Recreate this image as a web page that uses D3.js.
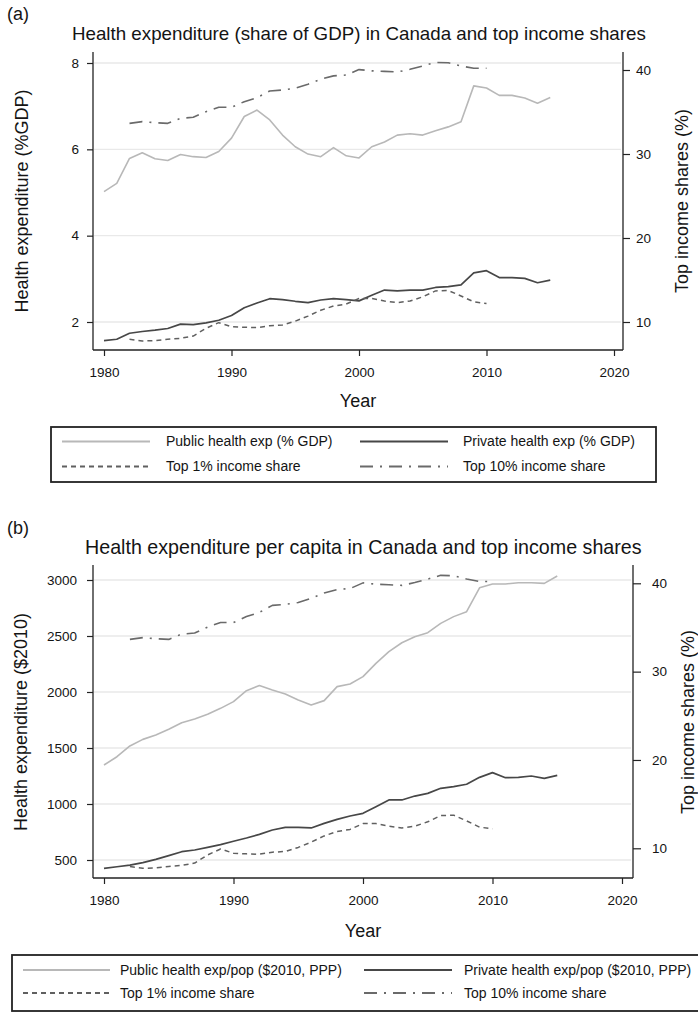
<!DOCTYPE html>
<html><head><meta charset="utf-8">
<script src="https://cdn.jsdelivr.net/npm/d3@7"></script>
<style>
body{margin:0;background:#fff;}
svg{display:block;font-family:"Liberation Sans",Arial,Helvetica,sans-serif;}
</style></head><body>
<svg id="chart" width="698" height="1013"></svg>
<script>
// ---------- DATA ----------
const years = [1980,1981,1982,1983,1984,1985,1986,1987,1988,1989,1990,1991,1992,1993,1994,1995,1996,1997,1998,1999,2000,2001,2002,2003,2004,2005,2006,2007,2008,2009,2010,2011,2012,2013,2014,2015];
const incomeYears = [1982,1983,1984,1985,1986,1987,1988,1989,1990,1991,1992,1993,1994,1995,1996,1997,1998,1999,2000,2001,2002,2003,2004,2005,2006,2007,2008,2009,2010];

const publicGDP = [5.02,5.21,5.79,5.92,5.78,5.74,5.88,5.83,5.81,5.95,6.26,6.76,6.91,6.68,6.33,6.06,5.89,5.83,6.04,5.85,5.80,6.06,6.17,6.33,6.36,6.33,6.43,6.52,6.64,7.47,7.42,7.25,7.25,7.19,7.07,7.20];
const privateGDP = [1.57,1.60,1.74,1.78,1.81,1.85,1.95,1.94,1.98,2.04,2.15,2.33,2.44,2.54,2.52,2.48,2.45,2.51,2.54,2.52,2.49,2.62,2.74,2.72,2.74,2.74,2.80,2.82,2.86,3.14,3.19,3.03,3.03,3.01,2.91,2.97];
const publicPerCapita = [1348,1422,1518,1577,1616,1667,1726,1759,1801,1854,1914,2012,2057,2018,1982,1929,1884,1923,2048,2071,2137,2256,2360,2440,2494,2530,2613,2673,2717,2930,2964,2964,2976,2976,2970,3036];
const privatePerCapita = [426,440,455,476,506,539,574,589,613,637,667,696,729,768,792,792,786,827,863,893,917,976,1036,1036,1071,1095,1140,1155,1176,1238,1280,1235,1238,1250,1229,1256];
const top1Share = [7.94,7.74,7.78,7.94,8.06,8.33,9.25,9.92,9.44,9.37,9.33,9.56,9.64,10.1,10.7,11.4,11.9,12.14,12.8,12.8,12.5,12.3,12.5,13.0,13.7,13.75,13.1,12.4,12.2];
const top10Share = [33.65,33.85,33.73,33.65,34.25,34.37,35.04,35.56,35.56,36.23,36.71,37.5,37.62,37.82,38.3,38.9,39.3,39.4,40.05,39.9,39.84,39.76,40.08,40.48,40.9,40.86,40.48,40.2,40.2];

const xTickValues = [1980,1990,2000,2010,2020];
const leftTicksA = [2,4,6,8];
const leftTicksB = [500,1000,1500,2000,2500,3000];
const rightTickValues = [10,20,30,40];

const legendA = ["Public health exp (% GDP)","Private health exp (% GDP)","Top 1% income share","Top 10% income share"];
const legendB = ["Public health exp/pop ($2010, PPP)","Private health exp/pop ($2010, PPP)","Top 1% income share","Top 10% income share"];

// ---------- STYLES ----------
const sty = {
  pub:  {stroke:"#b8b8b8", w:1.6, dash:null},
  priv: {stroke:"#474747", w:1.7, dash:null},
  t1:   {stroke:"#606060", w:1.5, dash:"5,4"},
  t10:  {stroke:"#6a6a6a", w:1.6, dash:"13,7,2,7"}
};
const textCol = "#141414";
const svg = d3.select("#chart");

function drawPanel(c){
  const g = svg.append("g");
  const x = d3.scaleLinear().domain([1980,2020]).range(c.xRange);
  const yL = d3.scaleLinear().domain(c.yLDomain).range(c.yLRange);
  const yR = d3.scaleLinear().domain([10,40]).range(c.yRRange);

  // panel label
  g.append("text").attr("x",7).attr("y",c.labelY).attr("font-size",18).attr("fill",textCol).text(c.label);
  // title
  const t = g.append("text").attr("x",c.titleX).attr("y",c.titleY).attr("font-size",18).attr("fill",textCol).text(c.title);
  const len = t.node().getComputedTextLength();
  t.attr("font-size", 18*c.titleW/len);

  // gridlines
  g.append("g").selectAll("line").data(c.leftTicks).join("line")
    .attr("x1",c.left+1).attr("x2",c.right-2)
    .attr("y1",d=>yL(d)).attr("y2",d=>yL(d))
    .attr("stroke","#e9e9e9").attr("stroke-width",1.3);

  // axes via d3
  const fmt = d3.format("d");
  const axL = d3.axisLeft(yL).tickValues(c.leftTicks).tickFormat(fmt).tickSize(6).tickPadding(c.lPad).tickSizeOuter(0);
  const axR = d3.axisRight(yR).tickValues(rightTickValues).tickFormat(fmt).tickSize(c.rTick).tickPadding(c.rPad).tickSizeOuter(0);
  const axB = d3.axisBottom(x).tickValues(xTickValues).tickFormat(fmt).tickSize(6).tickPadding(c.bPad).tickSizeOuter(0);
  const gl = g.append("g").attr("transform",`translate(${c.left},0)`).call(axL);
  const gr = g.append("g").attr("transform",`translate(${c.right},0)`).call(axR);
  const gb = g.append("g").attr("transform",`translate(0,${c.bottom})`).call(axB);
  [gl,gr,gb].forEach(a=>{
    a.select(".domain").remove();
    a.selectAll(".tick line").attr("stroke","#222").attr("stroke-width",1.2);
    a.selectAll(".tick text").attr("font-size",13.5).attr("fill",textCol).attr("font-family",'"Liberation Sans",Arial,Helvetica,sans-serif');
  });
  // axis lines
  g.append("line").attr("x1",c.left).attr("x2",c.left).attr("y1",c.top).attr("y2",c.bottom).attr("stroke","#222").attr("stroke-width",1.3);
  g.append("line").attr("x1",c.right).attr("x2",c.right).attr("y1",c.top).attr("y2",c.bottom).attr("stroke","#222").attr("stroke-width",1.3);
  g.append("line").attr("x1",c.left).attr("x2",c.right).attr("y1",c.bottom).attr("y2",c.bottom).attr("stroke","#222").attr("stroke-width",1.3);

  // axis titles
  g.append("text").attr("transform",`translate(${c.lTitleX},${c.midY}) rotate(-90)`).attr("text-anchor","middle").attr("dominant-baseline","central").attr("font-size",18).attr("fill",textCol).text(c.lTitle);
  g.append("text").attr("transform",`translate(${c.rTitleX},${c.midY}) rotate(-90)`).attr("text-anchor","middle").attr("dominant-baseline","central").attr("font-size",18).attr("fill",textCol).text("Top income shares (%)");
  g.append("text").attr("x",(c.left+c.right)/2).attr("y",c.yearY).attr("text-anchor","middle").attr("font-size",18).attr("fill",textCol).text("Year");

  // series
  const lineL = d3.line().x((d,i)=>x(years[i])).y(d=>yL(d));
  const lineR = d3.line().x((d,i)=>x(incomeYears[i])).y(d=>yR(d));
  const series = [
    {d:c.pub, gen:lineL, s:sty.pub},
    {d:c.priv, gen:lineL, s:sty.priv},
    {d:top1Share, gen:lineR, s:sty.t1},
    {d:top10Share, gen:lineR, s:sty.t10}
  ];
  series.forEach(o=>{
    g.append("path").attr("d",o.gen(o.d)).attr("fill","none")
      .attr("stroke",o.s.stroke).attr("stroke-width",o.s.w)
      .attr("stroke-dasharray",o.s.dash).attr("stroke-linejoin","round");
  });

  // legend
  const L = c.legend;
  g.append("rect").attr("x",L.x).attr("y",L.y).attr("width",L.w).attr("height",L.h)
    .attr("fill","none").attr("stroke","#222").attr("stroke-width",1.8);
  const items = [
    {s:sty.pub,  label:c.legendText[0], col:0, row:0},
    {s:sty.priv, label:c.legendText[1], col:1, row:0},
    {s:sty.t1,   label:c.legendText[2], col:0, row:1},
    {s:sty.t10,  label:c.legendText[3], col:1, row:1}
  ];
  items.forEach(it=>{
    const ln = it.col===0 ? L.c1Line : L.c2Line;
    const tx = it.col===0 ? L.c1Text : L.c2Text;
    const yy = L.rows[it.row];
    g.append("line").attr("x1",ln[0]).attr("x2",ln[1]).attr("y1",yy).attr("y2",yy)
      .attr("stroke",it.s.stroke).attr("stroke-width",it.s.w+0.4).attr("stroke-dasharray",it.s.dash);
    g.append("text").attr("x",tx).attr("y",yy).attr("dy","0.35em").attr("font-size",14).attr("fill",textCol).text(it.label);
  });
}

drawPanel({
  label:"(a)", labelY:20,
  title:"Health expenditure (share of GDP) in Canada and top income shares",
  titleX:72, titleY:40, titleW:574,
  left:93, right:623, top:52, bottom:350,
  xRange:[104,614],
  yLDomain:[2,8], yLRange:[322,63], leftTicks:leftTicksA,
  yRRange:[322,70],
  lPad:8, rTick:7, rPad:6, bPad:11,
  lTitle:"Health expenditure (%GDP)", lTitleX:22, rTitleX:682, midY:201,
  yearY:407,
  pub:publicGDP, priv:privateGDP,
  legendText:legendA,
  legend:{x:51,y:427,w:605,h:55,rows:[441.5,466.5],c1Line:[62,150],c1Text:166,c2Line:[360,448],c2Text:463}
});

drawPanel({
  label:"(b)", labelY:533.5,
  title:"Health expenditure per capita in Canada and top income shares",
  titleX:85, titleY:554, titleW:557,
  left:93, right:633, top:565, bottom:878,
  xRange:[104,622],
  yLDomain:[500,3000], yLRange:[860,580], leftTicks:leftTicksB,
  yRRange:[848.3,583.3],
  lPad:10, rTick:8, rPad:11, bPad:11,
  lTitle:"Health expenditure ($2010)", lTitleX:21, rTitleX:688, midY:722,
  yearY:937,
  pub:publicPerCapita, priv:privatePerCapita,
  legendText:legendB,
  legend:{x:12,y:955,w:710,h:56,rows:[970,993],c1Line:[23,110],c1Text:120,c2Line:[364,452],c2Text:464}
});
</script>
</body></html>
